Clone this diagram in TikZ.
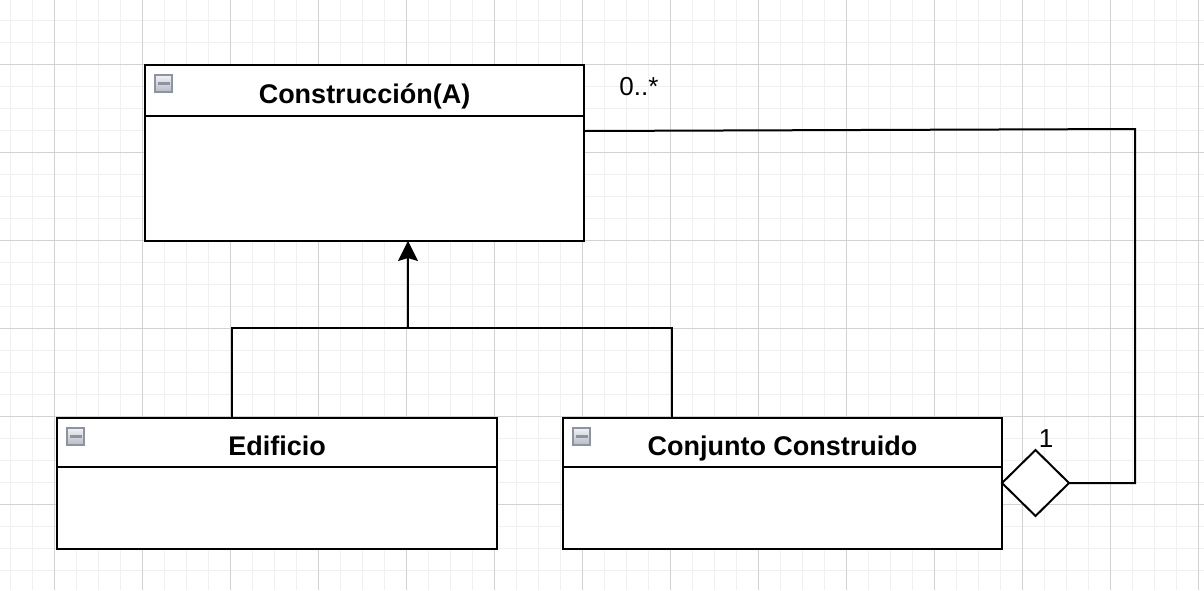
\documentclass[tikz,border=0pt]{standalone}
\usepackage{fontspec}
\setmainfont{Liberation Sans}
\usetikzlibrary{arrows.meta,shapes.geometric}
\definecolor{gridminor}{HTML}{F0F0F0}
\definecolor{gridmajor}{HTML}{D2D2D2}
\definecolor{iconborder}{HTML}{8C93A3}
\definecolor{icontop}{HTML}{F2F2F4}
\definecolor{iconbottom}{HTML}{B8BBC4}
\begin{document}
\begin{tikzpicture}[x=0.5pt,y=-0.5pt,
  hdr/.style={draw, line width=1pt, fill=white, anchor=north west, inner sep=0pt, outer sep=0pt,
    font=\fontsize{13.5}{15}\selectfont\bfseries, text height=13pt, text depth=0pt},
  bodybox/.style={draw, line width=1pt, fill=white, anchor=north west, inner sep=0pt, outer sep=0pt},
  icon/.style={draw=iconborder, line width=1pt, minimum size=8.5pt, inner sep=0pt,
    top color=icontop, bottom color=iconbottom,
    path picture={\draw[line width=1.5pt] ([xshift=-3pt]path picture bounding box.center) -- ([xshift=3pt]path picture bounding box.center);}},
  conn/.style={draw, line width=1pt},
  lbl/.style={font=\fontsize{13}{15}\selectfont, inner sep=0pt},
  aggdiamond/.style={diamond, draw, line width=1pt, fill=white, inner sep=0pt, outer sep=0pt,
    minimum width=33.5pt, minimum height=33pt}
]
\useasboundingbox (0,0) rectangle (1204,590);
\fill[white] (0,0) rectangle (1204,590);
% grid
\foreach \x in {10,32,...,1204} \draw[gridminor, line width=0.5pt] (\x,0) -- (\x,590);
\foreach \y in {-2,20,...,590} \draw[gridminor, line width=0.5pt] (0,\y) -- (1204,\y);
\foreach \x in {54,142,...,1204} \draw[gridmajor, line width=0.5pt] (\x,0) -- (\x,590);
\foreach \y in {-24,64,...,590} \draw[gridmajor, line width=0.5pt] (0,\y) -- (1204,\y);

% Construccion(A)
\node[hdr, minimum width=219.5pt, minimum height=25.5pt] (consh) at (145,65) {Construcción(A)};
\node[bodybox, minimum width=219.5pt, minimum height=62.5pt] (cons) at (consh.south west) {};
\node[icon] (consi) at (163.5,83.5) {};

% Edificio
\node[hdr, minimum width=220pt, minimum height=24.5pt] (edifh) at (57,418) {Edificio};
\node[bodybox, minimum width=220pt, minimum height=41pt] (edif) at (edifh.south west) {};
\node[icon] (edifi) at (75.5,436.5) {};

% Conjunto Construido
\node[hdr, minimum width=219.5pt, minimum height=24.5pt] (conjh) at (563,418) {Conjunto Construido};
\node[bodybox, minimum width=219.5pt, minimum height=41pt] (conj) at (conjh.south west) {};
\node[icon] (conji) at (581.5,436.5) {};

% aggregation diamond
\node[aggdiamond, anchor=west] (agg) at (1002,483) {};

% inheritance
\coordinate (j) at (408,328);
\draw[conn] ([xshift=-22.5pt]edifh.north) |- (j);
\draw[conn] ([xshift=-55.25pt]conjh.north) |- (j);
\draw[conn, -{Stealth[length=10pt,width=10pt,inset=1.5pt]}] (j) -- (j |- cons.south);

% aggregation connector
\coordinate (c1) at (1135,129);
\draw[conn] ([yshift=-33pt]consh.north east) -- (c1) |- (agg.east);

% multiplicities
\node[lbl, anchor=base] (m1) at (639,95) {0..*};
\node[lbl, anchor=base] (m2) at (1046,447) {1};
\end{tikzpicture}
\end{document}
